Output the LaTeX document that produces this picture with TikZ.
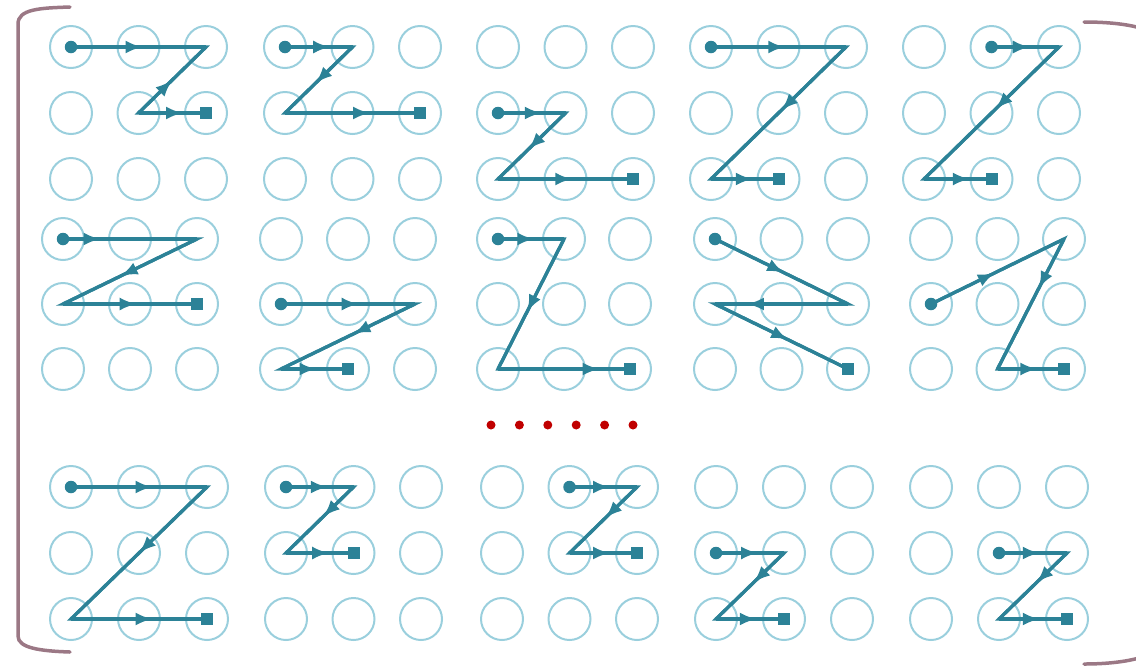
\documentclass[tikz,border=0pt]{standalone}
\usepackage{xcolor}
\usepackage{tikz}
\usetikzlibrary{arrows.meta,decorations.markings}

\definecolor{ringblue}{HTML}{9ACFDD}
\definecolor{pathteal}{HTML}{2C8297}
\definecolor{bracketmauve}{HTML}{9B7885}
\definecolor{dotred}{HTML}{C00000}

\begin{document}
\begin{tikzpicture}[
    x=0.02cm, y=-0.02cm,
    >={Latex[length=0.34cm, width=0.26cm]},
    ring/.style={circle, draw=ringblue, line width=0.04cm, minimum size=0.84cm, inner sep=0pt},
    zline/.style={draw=pathteal, line width=0.065cm, line join=miter},
    marrow/.style={zline, postaction={decorate, decoration={markings, mark=at position #1 with {\arrow[pathteal]{>}}}}},
    marrow/.default=0.6,
    rarrow/.style={zline, postaction={decorate, decoration={markings, mark=at position #1 with {\arrowreversed[pathteal]{>}}}}},
    startdot/.style={circle, fill=pathteal, minimum size=0.25cm, inner sep=0pt},
    enddot/.style={rectangle, fill=pathteal, minimum size=0.24cm, inner sep=0pt},
    gapdot/.style={circle, fill=dotred, minimum size=0.18cm, inner sep=0pt},
    bracket/.style={draw=bracketmauve, line width=0.07cm, line cap=round}
]
\useasboundingbox (0,0) rectangle (1136,667);

% 3x3 grids of rings
\foreach \g/\gx/\gy/\sx/\sy in {r1g1/71/47/67.5/66, r1g2/285/47/67.5/66, r1g3/498/47/67.5/66, r1g4/711/47/67.5/66, r1g5/924/47/67.5/66,
                        r2g1/63/239/67/65, r2g2/281/239/67/65, r2g3/498/239/66/65, r2g4/715/239/66.5/65, r2g5/931/239/66.5/65,
                        r3g1/71/487/68/66, r3g2/286/487/67.5/66, r3g3/502/487/67.5/66, r3g4/716/487/68/66, r3g5/931/487/68/66}
  \foreach \i in {0,1,2}
    \foreach \j in {0,1,2}
      \node[ring] (\g-\i-\j) at ({\gx+\sx*\i},{\gy+\sy*\j}) {};

% first pattern, middle arrow turned back
\draw[zline] (r1g1-0-0.center) -- (r1g1-2-0.center) -- (r1g1-1-1.center) -- (r1g1-2-1.center);
\draw[marrow=0.53] (r1g1-0-0.center) -- (r1g1-2-0.center);
\draw[rarrow=0.5] (r1g1-2-0.center) -- (r1g1-1-1.center);
\draw[marrow=0.66] (r1g1-1-1.center) -- (r1g1-2-1.center);
\node[startdot] (r1g1-s) at (r1g1-0-0) {};
\node[enddot] (r1g1-e) at (r1g1-2-1) {};

% the other patterns
\foreach \g/\a/\b/\c/\d/\p/\q/\r in {
    r1g2/0-0/1-0/0-1/2-1/0.67/0.55/0.63,
    r1g3/0-1/1-1/0-2/2-2/0.65/0.55/0.55,
    r1g4/0-0/2-0/0-2/1-2/0.55/0.48/0.62,
    r1g5/1-0/2-0/0-2/1-2/0.57/0.47/0.68,
    r2g1/0-0/2-0/0-1/2-1/0.28/0.57/0.55,
    r2g2/0-1/2-1/0-2/1-2/0.58/0.46/0.53,
    r2g3/0-0/1-0/0-2/2-2/0.55/0.56/0.77,
    r2g4/0-0/2-1/0-1/2-2/0.52/0.76/0.55,
    r2g5/0-1/2-0/1-2/2-2/0.48/0.38/0.6,
    r3g1/0-0/2-0/0-2/2-2/0.6/0.5/0.6,
    r3g2/0-0/1-0/0-1/1-1/0.62/0.45/0.64,
    r3g3/1-0/2-0/1-1/2-1/0.6/0.47/0.6,
    r3g4/0-1/1-1/0-2/1-2/0.62/0.45/0.6,
    r3g5/1-1/2-1/1-2/2-2/0.6/0.45/0.6}
{
  \draw[zline] (\g-\a.center) -- (\g-\b.center) -- (\g-\c.center) -- (\g-\d.center);
  \draw[marrow=\p] (\g-\a.center) -- (\g-\b.center);
  \draw[marrow=\q] (\g-\b.center) -- (\g-\c.center);
  \draw[marrow=\r] (\g-\c.center) -- (\g-\d.center);
  \node[startdot] (\g-s) at (\g-\a) {};
  \node[enddot] (\g-e) at (\g-\d) {};
}

% dots between the rows
\foreach \k in {0,...,5}
  \node[gapdot] (gap\k) at ({491+28.4*\k},425) {};

% brackets
\draw[bracket] (70,7) .. controls (40,8) and (18,9) .. (18,24) -- (18,636) .. controls (18,648) and (40,651) .. (70,652);
\draw[bracket] (1084,22) .. controls (1120,22) and (1165,27) .. (1165,50) -- (1165,636) .. controls (1165,658) and (1120,664) .. (1084,664);

\end{tikzpicture}
\end{document}
